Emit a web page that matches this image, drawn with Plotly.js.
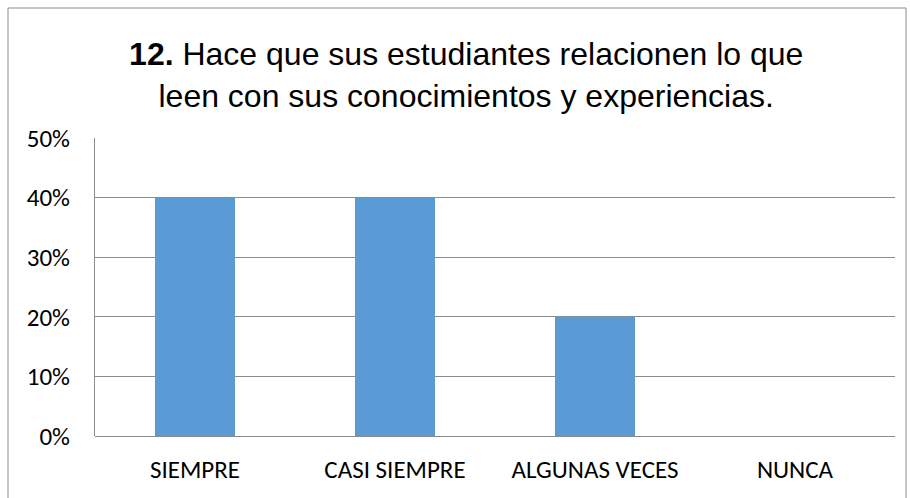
<!DOCTYPE html>
<html>
<head>
<meta charset="utf-8">
<script src="https://cdn.plot.ly/plotly-3.0.1.min.js"></script>
<style>
  body { margin: 0; padding: 0; background: #fff; }
  #chart { width: 910px; height: 498px; }
</style>
</head>
<body>
<div id="chart"></div>
<script>
var categories = ['SIEMPRE', 'CASI SIEMPRE', 'ALGUNAS VECES', 'NUNCA'];
var percentages = [0.40, 0.40, 0.20, 0];
var tickValues = [0, 0.1, 0.2, 0.3, 0.4, 0.5];
var tickLabels = ['0%', '10%', '20%', '30%', '40%', '50%'];

var tickFont = {family: 'Carlito, Calibri, Lato, sans-serif', size: 25, color: '#000'};

var data = [{
    x: categories,
    y: percentages,
    type: 'bar',
    width: 0.4,
    marker: {color: '#5b9bd5'},
    hoverinfo: 'x+y'
}];

var layout = {
    width: 910,
    height: 498,
    margin: {l: 95, r: 15, t: 138, b: 62},
    paper_bgcolor: '#fff',
    plot_bgcolor: '#fff',
    showlegend: false,
    title: {
        text: '<b>12.</b> Hace que sus estudiantes relacionen lo que<br>leen con sus conocimientos y experiencias.',
        font: {family: 'Liberation Sans, Arial, sans-serif', size: 32, color: '#000'},
        x: 0.464,
        xref: 'paper',
        xanchor: 'center',
        y: 0.869,
        yref: 'container',
        yanchor: 'middle'
    },
    xaxis: {
        type: 'category',
        showgrid: false,
        showline: false,
        zeroline: false,
        ticks: '',
        tickfont: tickFont,
        ticklabelstandoff: 16
    },
    yaxis: {
        range: [0, 0.5],
        tickvals: tickValues,
        ticktext: tickLabels,
        showgrid: true,
        gridcolor: '#8c8c8c',
        gridwidth: 1,
        zeroline: true,
        zerolinecolor: '#8c8c8c',
        zerolinewidth: 1,
        showline: true,
        linecolor: '#8c8c8c',
        linewidth: 1,
        ticks: '',
        tickfont: tickFont,
        ticklabelstandoff: 19
    },
    shapes: [{
        type: 'rect',
        xref: 'paper',
        yref: 'paper',
        x0: -87 / 800,
        x1: 811 / 800,
        y0: -70 / 298,
        y1: 428 / 298,
        line: {color: '#8c8c8c', width: 1},
        fillcolor: 'rgba(0,0,0,0)'
    }],
    bargap: 0.6
};

Plotly.newPlot('chart', data, layout, {displayModeBar: false, staticPlot: true});
</script>
</body>
</html>
